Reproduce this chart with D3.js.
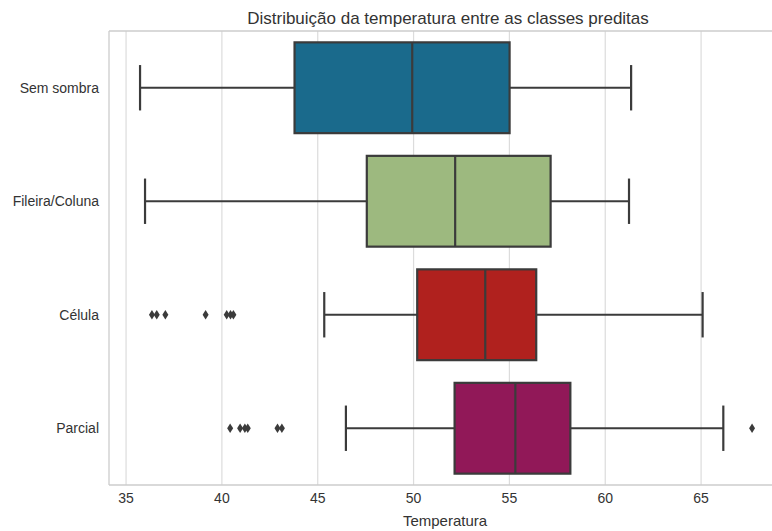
<!DOCTYPE html>
<html>
<head>
<meta charset="utf-8">
<script src="https://cdn.jsdelivr.net/npm/d3@7"></script>
<style>
  body { margin: 0; background: #fff; }
  svg { display: block; }
  text { font-family: "Liberation Sans", Arial, sans-serif; fill: #333; }
</style>
</head>
<body>
<svg id="chart" width="772" height="531"></svg>
<script>
// Temperature distribution for each predicted class (box statistics)
const categories = ["Sem sombra", "Fileira/Coluna", "Célula", "Parcial"];
const whiskerLow  = [35.73, 35.99, 45.34, 46.47];
const q1          = [43.79, 47.56, 50.19, 52.14];
const medians     = [49.93, 52.17, 53.74, 55.31];
const q3          = [55.01, 57.15, 56.40, 58.18];
const whiskerHigh = [61.35, 61.24, 65.08, 66.16];
const outliers = [
  [],
  [],
  [36.35, 36.6, 37.05, 39.15, 40.25, 40.45, 40.6],
  [40.43, 40.95, 41.2, 41.35, 42.9, 43.13, 67.66]
];
const colors = ["#1a6a8c", "#9db97f", "#b0211e", "#911858"];
const xTicks = [35, 40, 45, 50, 55, 60, 65];

const svg = d3.select("#chart");
const plotLeft = 109, plotRight = 795, plotTop = 31, plotBottom = 485;

const x = d3.scaleLinear().domain([34.11, 69.9]).range([plotLeft, plotRight]);
const y = d3.scalePoint().domain(categories).range([plotTop, plotBottom]).padding(0.5);
const step = y.step();
const boxH = step * 0.8;
const capH = boxH / 2;

// grid
svg.append("g").selectAll("line").data(xTicks).join("line")
  .attr("x1", d => x(d)).attr("x2", d => x(d))
  .attr("y1", plotTop).attr("y2", plotBottom)
  .attr("stroke", "#dcdcdc").attr("stroke-width", 1.2);

// frame (top, left, bottom)
const frame = svg.append("g").attr("stroke", "#cccccc").attr("stroke-width", 1.3);
frame.append("line").attr("x1", plotLeft).attr("x2", 772).attr("y1", plotTop).attr("y2", plotTop);
frame.append("line").attr("x1", plotLeft).attr("x2", 772).attr("y1", plotBottom).attr("y2", plotBottom);
frame.append("line").attr("x1", plotLeft).attr("x2", plotLeft).attr("y1", plotTop).attr("y2", plotBottom);

const lineColor = "#3b3b3b";
const data = categories.map((c, i) => ({
  c, lo: whiskerLow[i], q1: q1[i], med: medians[i], q3: q3[i], hi: whiskerHigh[i],
  out: outliers[i], color: colors[i]
}));

const g = svg.append("g").selectAll("g").data(data).join("g");

// whiskers
g.append("line")
  .attr("x1", d => x(d.lo)).attr("x2", d => x(d.q1))
  .attr("y1", d => y(d.c)).attr("y2", d => y(d.c))
  .attr("stroke", lineColor).attr("stroke-width", 2.2);
g.append("line")
  .attr("x1", d => x(d.q3)).attr("x2", d => x(d.hi))
  .attr("y1", d => y(d.c)).attr("y2", d => y(d.c))
  .attr("stroke", lineColor).attr("stroke-width", 2.2);
// caps
g.append("line")
  .attr("x1", d => x(d.lo)).attr("x2", d => x(d.lo))
  .attr("y1", d => y(d.c) - capH / 2).attr("y2", d => y(d.c) + capH / 2)
  .attr("stroke", lineColor).attr("stroke-width", 2.2);
g.append("line")
  .attr("x1", d => x(d.hi)).attr("x2", d => x(d.hi))
  .attr("y1", d => y(d.c) - capH / 2).attr("y2", d => y(d.c) + capH / 2)
  .attr("stroke", lineColor).attr("stroke-width", 2.2);
// boxes
g.append("rect")
  .attr("x", d => x(d.q1)).attr("width", d => x(d.q3) - x(d.q1))
  .attr("y", d => y(d.c) - boxH / 2).attr("height", boxH)
  .attr("fill", d => d.color)
  .attr("stroke", lineColor).attr("stroke-width", 2.2);
// medians
g.append("line")
  .attr("x1", d => x(d.med)).attr("x2", d => x(d.med))
  .attr("y1", d => y(d.c) - boxH / 2).attr("y2", d => y(d.c) + boxH / 2)
  .attr("stroke", lineColor).attr("stroke-width", 2.2);
// outliers (thin diamonds)
g.each(function(d) {
  d3.select(this).selectAll("path").data(d.out).join("path")
    .attr("d", v => {
      const cx = x(v), cy = y(d.c);
      return `M${cx},${cy - 4.8}L${cx + 3},${cy}L${cx},${cy + 4.8}L${cx - 3},${cy}Z`;
    })
    .attr("fill", lineColor);
});

// x tick labels
svg.append("g").selectAll("text").data(xTicks).join("text")
  .attr("x", d => x(d)).attr("y", plotBottom + 18)
  .attr("text-anchor", "middle").attr("font-size", 14)
  .text(d => d);

// y tick labels
svg.append("g").selectAll("text").data(categories).join("text")
  .attr("x", plotLeft - 10).attr("y", d => y(d)).attr("dy", "0.35em")
  .attr("text-anchor", "end").attr("font-size", 14)
  .text(d => d);

// axis title and chart title
svg.append("text").attr("x", 445).attr("y", 526)
  .attr("text-anchor", "middle").attr("font-size", 15)
  .text("Temperatura");
svg.append("text").attr("x", 448).attr("y", 24)
  .attr("text-anchor", "middle").attr("font-size", 17)
  .text("Distribuição da temperatura entre as classes preditas");
</script>
</body>
</html>
